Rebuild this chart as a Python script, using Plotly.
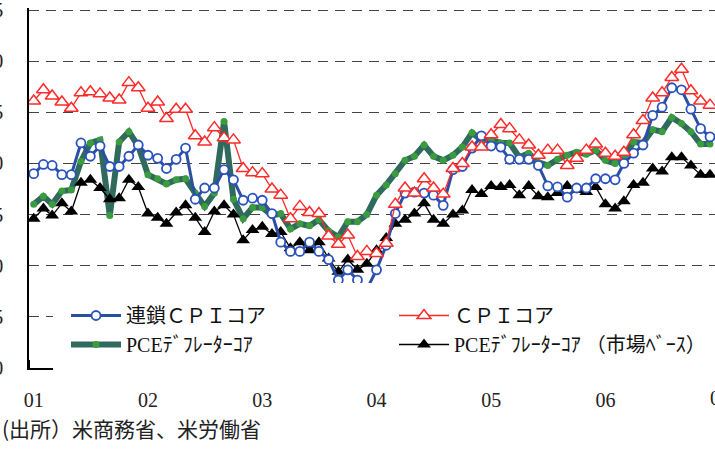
import plotly.graph_objects as go
import pandas as pd

# ---- data (monthly, Jan 2001 - Dec 2006, % y/y) ----
months = pd.date_range("2001-01-01", "2006-12-01", freq="MS")

chain_cpi_core = [
    1.90, 1.99, 1.98, 1.89, 1.89, 2.20, 2.07, 2.17, 1.97, 1.97, 2.07, 2.18,
    2.08, 2.05, 1.95, 2.04, 2.15, 1.65, 1.76, 1.76, 1.94, 1.84, 1.64, 1.66,
    1.64, 1.51, 1.23, 1.14, 1.14, 1.23, 1.14, 1.06, 0.86, 0.96, 0.86, 0.77,
    0.96, 1.20, 1.51, 1.71, 1.72, 1.71, 1.69, 1.59, 1.94, 1.97, 2.15, 2.27,
    2.17, 2.16, 2.04, 2.04, 2.04, 1.98, 1.78, 1.77, 1.67, 1.76, 1.76, 1.85,
    1.85, 1.84, 2.00, 2.10, 2.18, 2.47, 2.55, 2.74, 2.72, 2.53, 2.34, 2.26,
]
cpi_core = [
    2.61, 2.72, 2.66, 2.60, 2.54, 2.69, 2.70, 2.68, 2.64, 2.62, 2.79, 2.74,
    2.54, 2.60, 2.44, 2.53, 2.53, 2.27, 2.21, 2.35, 2.25, 2.23, 1.95, 1.91,
    1.90, 1.75, 1.69, 1.46, 1.58, 1.52, 1.51, 1.29, 1.21, 1.30, 1.09, 1.14,
    1.12, 1.22, 1.60, 1.76, 1.71, 1.85, 1.76, 1.70, 1.95, 2.00, 2.16, 2.16,
    2.28, 2.38, 2.34, 2.23, 2.18, 2.08, 2.13, 2.13, 1.98, 2.05, 2.13, 2.19,
    2.10, 2.07, 2.11, 2.28, 2.42, 2.64, 2.69, 2.84, 2.92, 2.71, 2.61, 2.57,
]
pce_core = [
    1.60, 1.68, 1.60, 1.73, 1.74, 2.02, 2.20, 2.23, 1.49, 2.21, 2.31, 2.17,
    1.89, 1.85, 1.80, 1.84, 1.85, 1.71, 1.58, 1.71, 2.41, 1.65, 1.46, 1.57,
    1.57, 1.49, 1.51, 1.36, 1.41, 1.39, 1.45, 1.34, 1.28, 1.43, 1.43, 1.50,
    1.69, 1.79, 1.90, 2.03, 2.07, 2.18, 2.07, 2.03, 2.08, 2.16, 2.30, 2.23,
    2.23, 2.20, 2.20, 2.06, 2.10, 2.01, 1.98, 2.04, 2.08, 2.11, 2.09, 2.13,
    2.03, 2.00, 2.06, 2.21, 2.20, 2.33, 2.31, 2.45, 2.39, 2.31, 2.19, 2.19,
]
pce_core_market = [
    1.46, 1.56, 1.49, 1.61, 1.53, 1.81, 1.84, 1.76, 1.65, 1.66, 1.84, 1.77,
    1.51, 1.47, 1.41, 1.52, 1.59, 1.47, 1.33, 1.53, 1.59, 1.50, 1.25, 1.35,
    1.38, 1.31, 1.33, 1.17, 1.23, 1.15, 1.23, 1.07, 0.94, 1.06, 0.96, 1.02,
    1.15, 1.27, 1.41, 1.45, 1.51, 1.61, 1.45, 1.41, 1.50, 1.54, 1.74, 1.70,
    1.78, 1.77, 1.79, 1.69, 1.78, 1.68, 1.67, 1.71, 1.78, 1.74, 1.72, 1.77,
    1.60, 1.56, 1.63, 1.79, 1.81, 1.95, 1.92, 2.06, 2.06, 1.98, 1.89, 1.89,
]
year_labels = ["01", "02", "03", "04", "05", "06"]
next_year_label = "07"
y_ticks = [0, 0.5, 1.0, 1.5, 2.0, 2.5, 3.0, 3.5]
source_text = "(出所）米商務省、米労働省"

x = months + pd.Timedelta(days=15)
year_starts = pd.date_range("2001-01-01", "2007-01-01", freq="YS")
label_pos = year_starts[:-1] + pd.Timedelta(days=15)

SERIF = "'Liberation Serif', 'Noto Sans CJK JP', serif"

W, H = 735, 473
L, T, PW, PH = 29, 8, 686, 360
Y_TOP = 3.5 + 2 / 102.29  # keep the 3.5 gridline 2px below the plot top

fig = go.Figure()

fig.add_trace(go.Scatter(
    x=x, y=pce_core, name="PCEﾃﾞﾌﾚｰﾀｰｺｱ", legendrank=3,
    mode="lines+markers",
    line=dict(color="#2f6a5c", width=6),
    marker=dict(symbol="circle", size=7, color="#3a9c3e", line=dict(width=0)),
))
fig.add_trace(go.Scatter(
    x=x, y=pce_core_market, name="PCEﾃﾞﾌﾚｰﾀｰｺｱ （市場ﾍﾞｰｽ）", legendrank=4,
    mode="lines+markers",
    line=dict(color="#000000", width=1.3),
    marker=dict(symbol="triangle-up", size=12, color="#000000", line=dict(width=0)),
))
fig.add_trace(go.Scatter(
    x=x, y=chain_cpi_core, name="連鎖ＣＰＩコア", legendrank=1,
    mode="lines+markers",
    line=dict(color="#2c4ea3", width=3),
    marker=dict(symbol="circle", size=9, color="white",
                line=dict(color="#2a52be", width=1.8)),
))
fig.add_trace(go.Scatter(
    x=x, y=cpi_core, name="ＣＰＩコア", legendrank=2,
    mode="lines+markers",
    line=dict(color="#ff2a2a", width=1.3),
    marker=dict(symbol="triangle-up", size=12, color="white",
                line=dict(color="#ff2a2a", width=1.5)),
))

fig.update_layout(
    width=W, height=H,
    margin=dict(l=L, r=W - L - PW, t=T, b=H - T - PH, pad=0),
    paper_bgcolor="white", plot_bgcolor="white",
    showlegend=True,
    legend=dict(
        orientation="h", x=(55 - L) / PW, xanchor="left",
        y=(368 - 283) / PH, yanchor="top",
        bgcolor="white", bordercolor="white", borderwidth=13,
        itemwidth=50, entrywidth=263, tracegroupgap=0,
        font=dict(family=SERIF, size=20, color="#111"),
        traceorder="normal",
    ),
    xaxis=dict(
        type="date",
        range=[year_starts[0], year_starts[-1]],
        tickmode="array", tickvals=label_pos, ticktext=year_labels,
        ticks="", showgrid=False, zeroline=False,
        showline=True, linecolor="black", linewidth=1.5,
        tickfont=dict(family=SERIF, size=20, color="#222"),
        ticklabelstandoff=13, ticklabeloverflow="allow", automargin=False,
        minor=dict(tickmode="array", tickvals=year_starts, ticks="inside",
                   ticklen=8, tickcolor="black", tickwidth=1, showgrid=False),
    ),
    yaxis=dict(
        range=[0, Y_TOP], tickmode="array", tickvals=y_ticks, tickformat=".1f",
        showgrid=True, gridcolor="#444", griddash="10px,7px", gridwidth=1,
        zeroline=False, showline=True, linecolor="black", linewidth=1.5,
        ticks="", tickfont=dict(family=SERIF, size=20, color="#222"),
        ticklabelstandoff=20, ticklabeloverflow="allow", automargin=False,
    ),
    annotations=[
        dict(text=next_year_label, xref="paper", yref="paper",
             x=1 + 15.5 / (6 * 365.25), y=-(398 - 368) / PH,
             xanchor="center", yanchor="middle", showarrow=False,
             font=dict(family=SERIF, size=20, color="#222")),
        dict(text=source_text, xref="paper", yref="paper",
             x=-L / PW, y=-(428 - 368) / PH,
             xanchor="left", yanchor="middle", showarrow=False,
             font=dict(family="Noto Sans CJK JP", size=21, color="#222")),
    ],
)

fig.write_html(
    "out.html",
    config={"displayModeBar": False},
    post_script="document.body.style.margin='0';"
                "document.body.style.overflow='hidden';",
)
